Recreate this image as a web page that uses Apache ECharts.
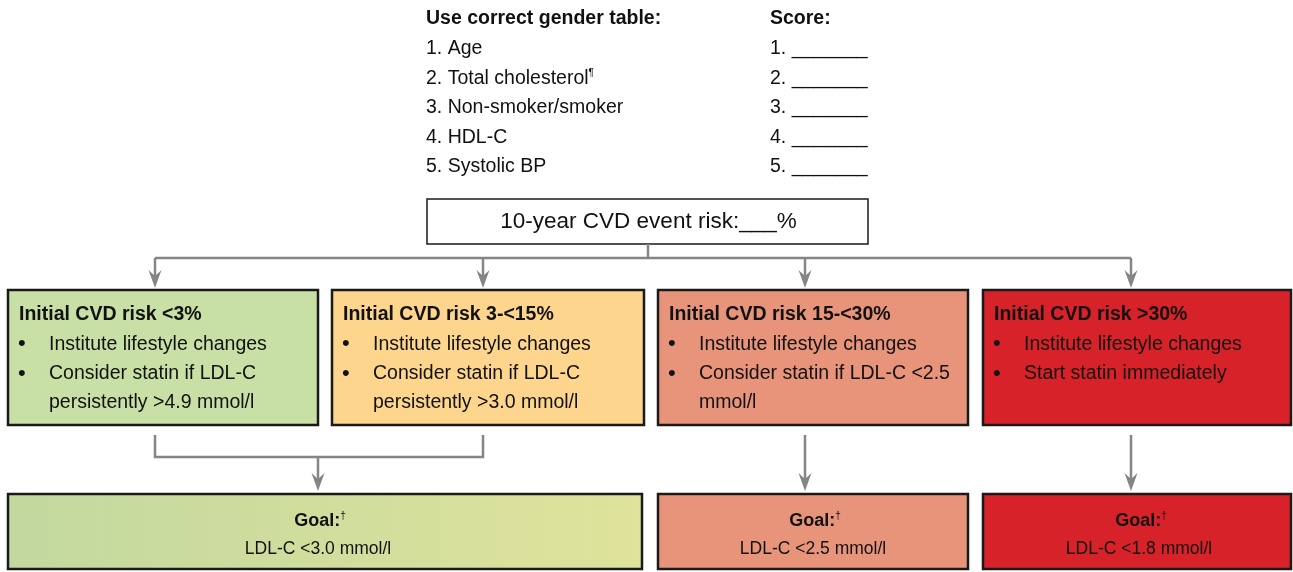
<!DOCTYPE html>
<html>
<head>
<meta charset="utf-8">
<script src="https://cdn.jsdelivr.net/npm/echarts@6/dist/echarts.min.js"></script>
<style>
  html, body { margin: 0; padding: 0; background: #fff; }
  #chart { width: 1293px; height: 572px; }
</style>
</head>
<body>
<div id="chart"></div>
<script>
// data
const tableTitle = 'Use correct gender table:'
const scoreTitle = 'Score:'
const factors = ['Age', 'Total cholesterol', 'Non-smoker/smoker', 'HDL-C', 'Systolic BP']
const factorNotes = ['', '¶', '', '', '']
const riskLabel = '10-year CVD event risk:___%'
const riskTitles = ['Initial CVD risk <3%', 'Initial CVD risk 3-<15%', 'Initial CVD risk 15-<30%', 'Initial CVD risk >30%']
const riskBullets = [
    [['Institute lifestyle changes'], ['Consider statin if LDL-C', 'persistently >4.9 mmol/l']],
    [['Institute lifestyle changes'], ['Consider statin if LDL-C', 'persistently >3.0 mmol/l']],
    [['Institute lifestyle changes'], ['Consider statin if LDL-C <2.5', 'mmol/l']],
    [['Institute lifestyle changes'], ['Start statin immediately']]
]
const goalTargets = ['LDL-C <3.0 mmol/l', 'LDL-C <2.5 mmol/l', 'LDL-C <1.8 mmol/l']
// which risk boxes feed each goal box
const goalSources = [[0, 1], [2], [3]]

// layout + styles
const FONT = '"Liberation Sans", Arial, Helvetica, sans-serif'
const LINE = '#858585'
const BORDER = '#1a1a1a'
const riskFills = ['#c8e0a6', '#fdd58d', '#e8947a', '#d82229']
const goalFills = [
    { type: 'linear', x: 0, y: 0, x2: 1, y2: 0, colorStops: [{ offset: 0, color: '#c2d89f' }, { offset: 1, color: '#dfe39b' }] },
    '#e8947a',
    '#d82229'
]
const boxCols = [[8, 318], [332, 644], [658, 968], [983, 1291]]
const arrowX = [155, 483, 805, 1131]
const goalCols = [[8, 642], [658, 968], [983, 1291]]
const goalTextX = [318, 813, 1139]
const riskTop = 290, riskBottom = 425
const goalTop = 494, goalBottom = 569
const topBox = { x: 427, y: 199, w: 441, h: 45 }
const splitY = 258
const BODY = 19.5

const g = []

const text = (x, y, str, opt = {}) => ({
    type: 'text',
    x, y,
    style: Object.assign({
        text: str,
        fontFamily: FONT,
        fontSize: BODY,
        fill: '#111',
        align: 'left',
        verticalAlign: 'middle',
        rich: {
            b: { fontFamily: FONT, fontSize: opt.fontSize || BODY, fontWeight: 'bold', fill: '#111' },
            sup: { fontFamily: FONT, fontSize: 10, fill: '#111', verticalAlign: 'top', padding: [0, 0, 10, 0] }
        }
    }, opt)
})

const line = (points) => ({
    type: 'polyline',
    shape: { points },
    style: { stroke: LINE, lineWidth: 2.5, fill: null }
})

const arrow = (x, y0, tip) => [
    line([[x, y0], [x, tip - 10]]),
    {
        type: 'polygon',
        shape: { points: [[x - 6.5, tip - 18], [x, tip - 12], [x + 6.5, tip - 18], [x, tip]] },
        style: { fill: LINE }
    }
]

// top checklist
g.push(text(426, 19, tableTitle, { fontWeight: 'bold' }))
g.push(text(770, 19, scoreTitle, { fontWeight: 'bold' }))
factors.forEach((f, i) => {
    const y = 49 + i * 29.5
    const note = factorNotes[i] ? '{sup|' + factorNotes[i] + '}' : ''
    g.push(text(426, y, (i + 1) + '. ' + f + note))
    g.push(text(770, y, (i + 1) + '. _______'))
})

// risk box
g.push({
    type: 'rect',
    shape: { x: topBox.x, y: topBox.y, width: topBox.w, height: topBox.h },
    style: { fill: '#fff', stroke: BORDER, lineWidth: 1.5 }
})
g.push(text(topBox.x + topBox.w / 2 + 1, topBox.y + topBox.h / 2, riskLabel, { fontSize: 22.5, align: 'center' }))

// split connector
g.push(line([[648, topBox.y + topBox.h], [648, splitY]]))
g.push(line([[arrowX[0], splitY], [arrowX[3], splitY]]))
arrowX.forEach(m => g.push(...arrow(m, splitY, riskTop - 2)))

// risk category boxes
riskTitles.forEach((t, i) => {
    const [x0, x1] = boxCols[i]
    g.push({
        type: 'rect',
        shape: { x: x0, y: riskTop, width: x1 - x0, height: riskBottom - riskTop },
        style: { fill: riskFills[i], stroke: BORDER, lineWidth: 2.5 }
    })
    g.push(text(x0 + 11, 315, t, { fontWeight: 'bold' }))
    let row = 1
    riskBullets[i].forEach(b => {
        b.forEach((ln, k) => {
            const y = 315 + row * 29.3
            if (k === 0) g.push(text(x0 + 10, y, '•', { fontSize: 22 }))
            g.push(text(x0 + 41, y, ln))
            row++
        })
    })
})

// connectors to goals
goalSources.forEach((src, gi) => {
    if (src.length > 1) {
        const xs = src.map(s => arrowX[s])
        g.push(line([[xs[0], 435], [xs[0], 457], [xs[xs.length - 1], 457], [xs[xs.length - 1], 435]]))
        g.push(...arrow(goalTextX[gi], 457, goalTop - 3))
    } else {
        g.push(...arrow(arrowX[src[0]], 435, goalTop - 3))
    }
})

// goal boxes
goalTargets.forEach((t, i) => {
    const [x0, x1] = goalCols[i]
    const cx = goalTextX[i]
    g.push({
        type: 'rect',
        shape: { x: x0, y: goalTop, width: x1 - x0, height: goalBottom - goalTop },
        style: { fill: goalFills[i], stroke: BORDER, lineWidth: 2.5 }
    })
    g.push(text(cx + 2, 521, '{b|Goal:}{sup|†}', { align: 'center', fontSize: 18 }))
    g.push(text(cx, 549, t, { align: 'center', fontSize: 17.5 }))
})

const chart = echarts.init(document.getElementById('chart'))
chart.setOption({
    animation: false,
    graphic: { elements: g }
})
</script>
</body>
</html>
